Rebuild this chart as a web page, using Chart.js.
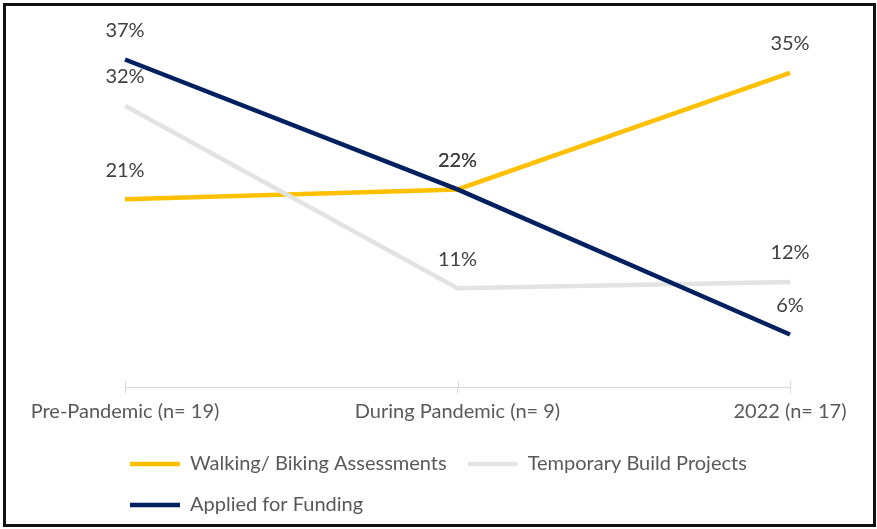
<!DOCTYPE html>
<html><head><meta charset="utf-8">
<script src="https://cdn.jsdelivr.net/npm/chart.js@4"></script>
<style>
html,body{margin:0;padding:0;background:#fff;}
#frame{position:absolute;left:3px;top:3px;width:867px;height:518px;border:3px solid #111;background:#fff;}
canvas{display:block;}
</style></head><body>
<div id="frame"><canvas id="c" width="867" height="518"></canvas></div>
<script>
const categories = ['Pre-Pandemic (n= 19)', 'During Pandemic (n= 9)', '2022 (n= 17)'];
const seriesNames = ['Walking/ Biking Assessments', 'Temporary Build Projects', 'Applied for Funding'];
const walkingBiking = [21.1, 22.2, 35.3];
const temporaryBuild = [31.6, 11.1, 11.8];
const appliedFunding = [36.8, 22.2, 5.9];
const yMin = 0, yMax = 40;

const TEXT = '#595959';
const LABEL = '#404040';
const FONT = 'Lato, "Open Sans", sans-serif';
Chart.defaults.font.family = FONT;
Chart.defaults.font.size = 20;
Chart.defaults.color = TEXT;

const dataLabels = {
  id: 'dataLabels',
  afterDatasetsDraw(chart) {
    const ctx = chart.ctx;
    ctx.save();
    ctx.font = '20px ' + FONT;
    ctx.fillStyle = LABEL;
    ctx.textAlign = 'center';
    ctx.textBaseline = 'middle';
    chart.data.datasets.forEach((ds, di) => {
      const meta = chart.getDatasetMeta(di);
      meta.data.forEach((pt, i) => {
        ctx.fillText(Math.round(ds.data[i]) + '%', pt.x, pt.y - 29);
      });
    });
    ctx.restore();
  }
};

const tickAbove = {
  id: 'tickAbove',
  beforeDatasetsDraw(chart) {
    const xs = chart.scales.x;
    const ctx = chart.ctx;
    ctx.save();
    ctx.strokeStyle = '#D9D9D9';
    ctx.lineWidth = 1;
    xs.ticks.forEach((t, i) => {
      const x = Math.round(xs.getPixelForTick(i)) + 0.5;
      ctx.beginPath();
      ctx.moveTo(x, xs.top - 6);
      ctx.lineTo(x, xs.top);
      ctx.stroke();
    });
    ctx.restore();
  }
};

const legendShift = {
  id: 'legendShift',
  beforeDraw(chart) {
    const lg = chart.legend;
    if (lg) {
      lg.left = chart.chartArea.left + 5 - lg.options.labels.padding;
      lg.top = chart.scales.x.bottom + 3;
      lg.bottom = chart.height;
    }
  }
};

function series(label, data, color, order) {
  return {
    label, data, order,
    borderColor: color, backgroundColor: color,
    pointBorderColor: color, pointBackgroundColor: color, pointBorderWidth: 4.5
  };
}

new Chart(document.getElementById('c'), {
  type: 'line',
  data: {
    labels: categories,
    datasets: [
      series(seriesNames[0], walkingBiking, '#FFC000', 3),
      series(seriesNames[1], temporaryBuild, '#E3E3E3', 2),
      series(seriesNames[2], appliedFunding, '#002060', 1)
    ]
  },
  options: {
    responsive: false,
    devicePixelRatio: 1,
    animation: false,
    elements: {
      line: { borderWidth: 4.5, tension: 0, fill: false },
      point: { radius: 0, hoverRadius: 0 }
    },
    layout: { padding: { top: 25, right: 83, bottom: 2, left: 0 } },
    scales: {
      x: {
        type: 'category',
        offset: false,
        grid: { display: true, drawOnChartArea: false, drawTicks: true, tickLength: 6, color: '#D9D9D9', lineWidth: 1 },
        border: { display: true, color: '#D9D9D9', width: 1 },
        ticks: { padding: 6.5, color: TEXT, font: { size: 20 }, maxRotation: 0, autoSkip: false }
      },
      y: {
        min: yMin, max: yMax,
        ticks: { display: false },
        grid: { display: false },
        border: { display: false },
        afterFit(s) { s.width = 119; }
      }
    },
    plugins: {
      tooltip: { enabled: false },
      legend: {
        position: 'bottom',
        align: 'start',
        labels: {
          usePointStyle: true,
          pointStyle: 'line',
          pointStyleWidth: 50,
          padding: 21,
          color: TEXT,
          font: { size: 20 },
          sort: (a, b) => a.datasetIndex - b.datasetIndex
        }
      }
    }
  },
  plugins: [dataLabels, tickAbove, legendShift]
});
</script>
</body></html>
